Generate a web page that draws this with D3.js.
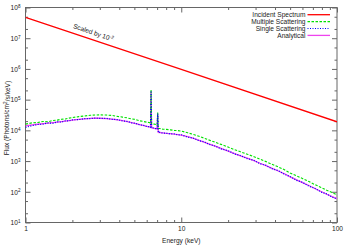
<!DOCTYPE html>
<html><head><meta charset="utf-8">
<script src="https://cdn.jsdelivr.net/npm/d3@7"></script>
<style>
html,body{margin:0;padding:0;background:#fff;}
svg{display:block;font-family:"Liberation Sans",Arial,sans-serif;}
</style></head>
<body><svg id="c" width="350" height="245"></svg>
<script>
// ---- data ----
const energy = [1,1.1,1.2,1.3,1.4,1.5,1.6,1.7,1.8,1.9,2.0,2.2,2.4,2.6,2.8,3.0,3.3,3.6,3.9,4.2,4.5,4.8,5.1,5.4,5.7,6.0,6.2,6.35,6.4,6.45,6.7,7.0,7.06,7.12,7.3,7.6,8.0,8.5,9.0,9.5,10,11,12,13,14,15,16.5,18,20,22,24,26.5,29,32,35,38,42,46,50,55,60,66,72,79,86,93,100];
const multiple = [1.6e4,1.75e4,1.8e4,1.95e4,1.9e4,2.1e4,2.15e4,2.3e4,2.35e4,2.5e4,2.6e4,2.8e4,2.95e4,3.1e4,3.15e4,3.2e4,3.15e4,3.05e4,2.85e4,2.7e4,2.55e4,2.35e4,2.25e4,2.05e4,1.95e4,1.85e4,1.8e4,1.75e4,2.1e5,1.6e4,1.6e4,1.5e4,3.8e4,1.15e4,1.15e4,1.1e4,1.08e4,1.04e4,1.0e4,9.8e3,9.5e3,8.3e3,7.3e3,6.4e3,5.6e3,4.9e3,4.1e3,3.5e3,2.85e3,2.35e3,2.0e3,1.68e3,1.42e3,1.15e3,960,800,640,520,410,330,270,215,172,138,112,94,80];
const single = [1.25e4,1.42e4,1.55e4,1.6e4,1.75e4,1.7e4,1.88e4,1.86e4,2.04e4,2.02e4,2.2e4,2.24e4,2.42e4,2.4e4,2.52e4,2.44e4,2.46e4,2.29e4,2.24e4,2.02e4,1.96e4,1.76e4,1.7e4,1.51e4,1.47e4,1.33e4,1.32e4,1.25e4,1.95e5,1.2e4,1.19e4,1.1e4,3.5e4,8.4e3,8.7e3,8.1e3,8.2e3,7.6e3,7.7e3,7.1e3,7.2e3,6.0e3,5.55e3,4.6e3,4.25e3,3.55e3,3.1e3,2.5e3,2.18e3,1.7e3,1.52e3,1.2e3,1.08e3,820,730,570,490,370,315,235,205,152,131,98,85,67,58];
const analytical = [1.4e4,1.5e4,1.58e4,1.65e4,1.72e4,1.78e4,1.85e4,1.92e4,2.0e4,2.07e4,2.15e4,2.28e4,2.38e4,2.45e4,2.48e4,2.48e4,2.42e4,2.33e4,2.2e4,2.07e4,1.93e4,1.8e4,1.67e4,1.55e4,1.45e4,1.36e4,1.3e4,1.27e4,1.85e5,1.22e4,1.17e4,1.12e4,3.4e4,8.6e3,8.5e3,8.3e3,8.0e3,7.8e3,7.5e3,7.3e3,7.05e3,6.2e3,5.45e3,4.75e3,4.15e3,3.65e3,3.05e3,2.6e3,2.12e3,1.75e3,1.48e3,1.24e3,1.05e3,850,710,590,475,385,305,245,200,160,128,102,83,70,60];
const incidentEnergy = [1, 10, 100];
const incident = [4.8e7, 9.6e5, 1.9e4];
const xTicks = [1, 10, 100];
const yTicks = [1e1,1e2,1e3,1e4,1e5,1e6,1e7,1e8];
const legendLabels = ["Incident Spectrum","Multiple Scattering","Single Scattering","Analytical"];

// ---- layout ----
const L = 25.5, R = 337, T = 7.5, B = 222.5;
const svg = d3.select("#c");
const x = d3.scaleLog().domain([1,100]).range([L,R]);
const y = d3.scaleLog().domain([10,1e8]).range([B,T]);
const fs = 6.6, axisCol = "#666", txtCol = "#222";

// minor tick values
const xMinor = [], yMinor = [];
[1,10].forEach(d=>{for(let k=2;k<=9;k++) xMinor.push(d*k);});
yTicks.slice(0,-1).forEach(d=>{yMinor.push(d*2, d*5);});

function styleAxis(g){ g.select(".domain").remove(); g.selectAll("line").attr("stroke",axisCol); }

// x axes (bottom & top), inward ticks
svg.append("g").attr("transform",`translate(0,${B})`)
  .call(d3.axisBottom(x).tickValues(xTicks).tickSize(-5).tickFormat(d3.format("d")).tickPadding(4))
  .call(styleAxis).call(g=>g.selectAll("text").attr("font-size",fs).attr("fill",txtCol).attr("font-family","Liberation Sans, Arial, sans-serif"));
svg.append("g").attr("transform",`translate(0,${B})`)
  .call(d3.axisBottom(x).tickValues(xMinor).tickSize(-2.5).tickFormat("")).call(styleAxis);
svg.append("g").attr("transform",`translate(0,${T})`)
  .call(d3.axisTop(x).tickValues(xTicks).tickSize(-5).tickFormat("")).call(styleAxis);
svg.append("g").attr("transform",`translate(0,${T})`)
  .call(d3.axisTop(x).tickValues(xMinor).tickSize(-2.5).tickFormat("")).call(styleAxis);

// y axes (left & right)
const yl = svg.append("g").attr("transform",`translate(${L},0)`)
  .call(d3.axisLeft(y).tickValues(yTicks).tickSize(-5).tickFormat("").tickPadding(5)).call(styleAxis);
svg.append("g").attr("transform",`translate(${L},0)`)
  .call(d3.axisLeft(y).tickValues(yMinor).tickSize(-2.5).tickFormat("")).call(styleAxis);
svg.append("g").attr("transform",`translate(${R},0)`)
  .call(d3.axisRight(y).tickValues(yTicks).tickSize(-5).tickFormat("")).call(styleAxis);
svg.append("g").attr("transform",`translate(${R},0)`)
  .call(d3.axisRight(y).tickValues(yMinor).tickSize(-2.5).tickFormat("")).call(styleAxis);

// y tick labels with superscripts
yl.selectAll(".tick").each(function(d){
  const t = d3.select(this).select("text");
  t.text(null).attr("x",-5).attr("dy","0.35em").attr("font-size",fs).attr("fill",txtCol)
   .attr("text-anchor","end").attr("font-family","Liberation Sans, Arial, sans-serif");
  t.append("tspan").text("10");
  t.append("tspan").attr("dy","-0.5em").attr("font-size",fs*0.7).text(Math.round(Math.log10(d)));
});

// frame
svg.append("rect").attr("x",L).attr("y",T).attr("width",R-L).attr("height",B-T)
  .attr("fill","none").attr("stroke",axisCol).attr("stroke-width",1);

// axis titles
svg.append("text").attr("x",(L+R)/2).attr("y",243).attr("text-anchor","middle")
  .attr("font-size",fs).attr("fill",txtCol).text("Energy (keV)");
const yt = svg.append("text").attr("transform","translate(9,118) rotate(-90)")
  .attr("text-anchor","middle").attr("font-size",fs).attr("fill",txtCol);
yt.append("tspan").text("Flux (Photons/cm");
yt.append("tspan").attr("dy","-0.45em").attr("font-size",fs*0.7).text("2");
yt.append("tspan").attr("dy","0.45em").text("/s/keV)");

// clip
svg.append("clipPath").attr("id","clip").append("rect")
  .attr("x",L).attr("y",T).attr("width",R-L).attr("height",B-T);
const plot = svg.append("g").attr("clip-path","url(#clip)");

const line = d3.line().x(d=>x(d[0])).y(d=>y(d[1]));
const zip = (a,b)=>a.map((v,i)=>[v,b[i]]);

const styles = [
  {stroke:"#ff0000", w:1.3, dash:null},
  {stroke:"#00e000", w:1.1, dash:"2.5,1.5"},
  {stroke:"#0000ff", w:1.2, dash:"1,1.5"},
  {stroke:"#ee44ee", w:1.3, dash:null}
];

plot.append("path").attr("d",line(zip(incidentEnergy,incident)))
  .attr("fill","none").attr("stroke",styles[0].stroke).attr("stroke-width",styles[0].w);
plot.append("path").attr("d",line(zip(energy,analytical)))
  .attr("fill","none").attr("stroke",styles[3].stroke).attr("stroke-width",styles[3].w);
plot.append("path").attr("d",line(zip(energy,multiple)))
  .attr("fill","none").attr("stroke",styles[1].stroke).attr("stroke-width",styles[1].w).attr("stroke-dasharray",styles[1].dash);
plot.append("path").attr("d",line(zip(energy,single)))
  .attr("fill","none").attr("stroke",styles[2].stroke).attr("stroke-width",styles[2].w).attr("stroke-dasharray",styles[2].dash);

// "Scaled by 10^-2" annotation along incident line
const ang = Math.atan2(y(incident[2])-y(incident[0]), x(100)-x(1))*180/Math.PI;
const ax = x(2.7), ay = y(4.8e7*Math.pow(2.7,-1.69)) - 5;
const st = svg.append("text").attr("transform",`translate(${ax},${ay}) rotate(${ang})`)
  .attr("text-anchor","middle").attr("font-size",fs).attr("fill",txtCol);
st.append("tspan").text("Scaled by 10");
st.append("tspan").attr("dy","-0.5em").attr("font-size",fs*0.7).text("-2");

// legend
const lg = svg.append("g");
legendLabels.forEach((lab,i)=>{
  const yy = 14.7 + i*6.9;
  lg.append("text").attr("x",305.5).attr("y",yy).attr("dy","0.35em").attr("text-anchor","end")
    .attr("font-size",fs).attr("fill",txtCol).text(lab);
  lg.append("line").attr("x1",307.5).attr("x2",330).attr("y1",yy).attr("y2",yy)
    .attr("stroke",styles[i].stroke).attr("stroke-width",styles[i].w)
    .attr("stroke-dasharray",styles[i].dash);
});
</script></body></html>
